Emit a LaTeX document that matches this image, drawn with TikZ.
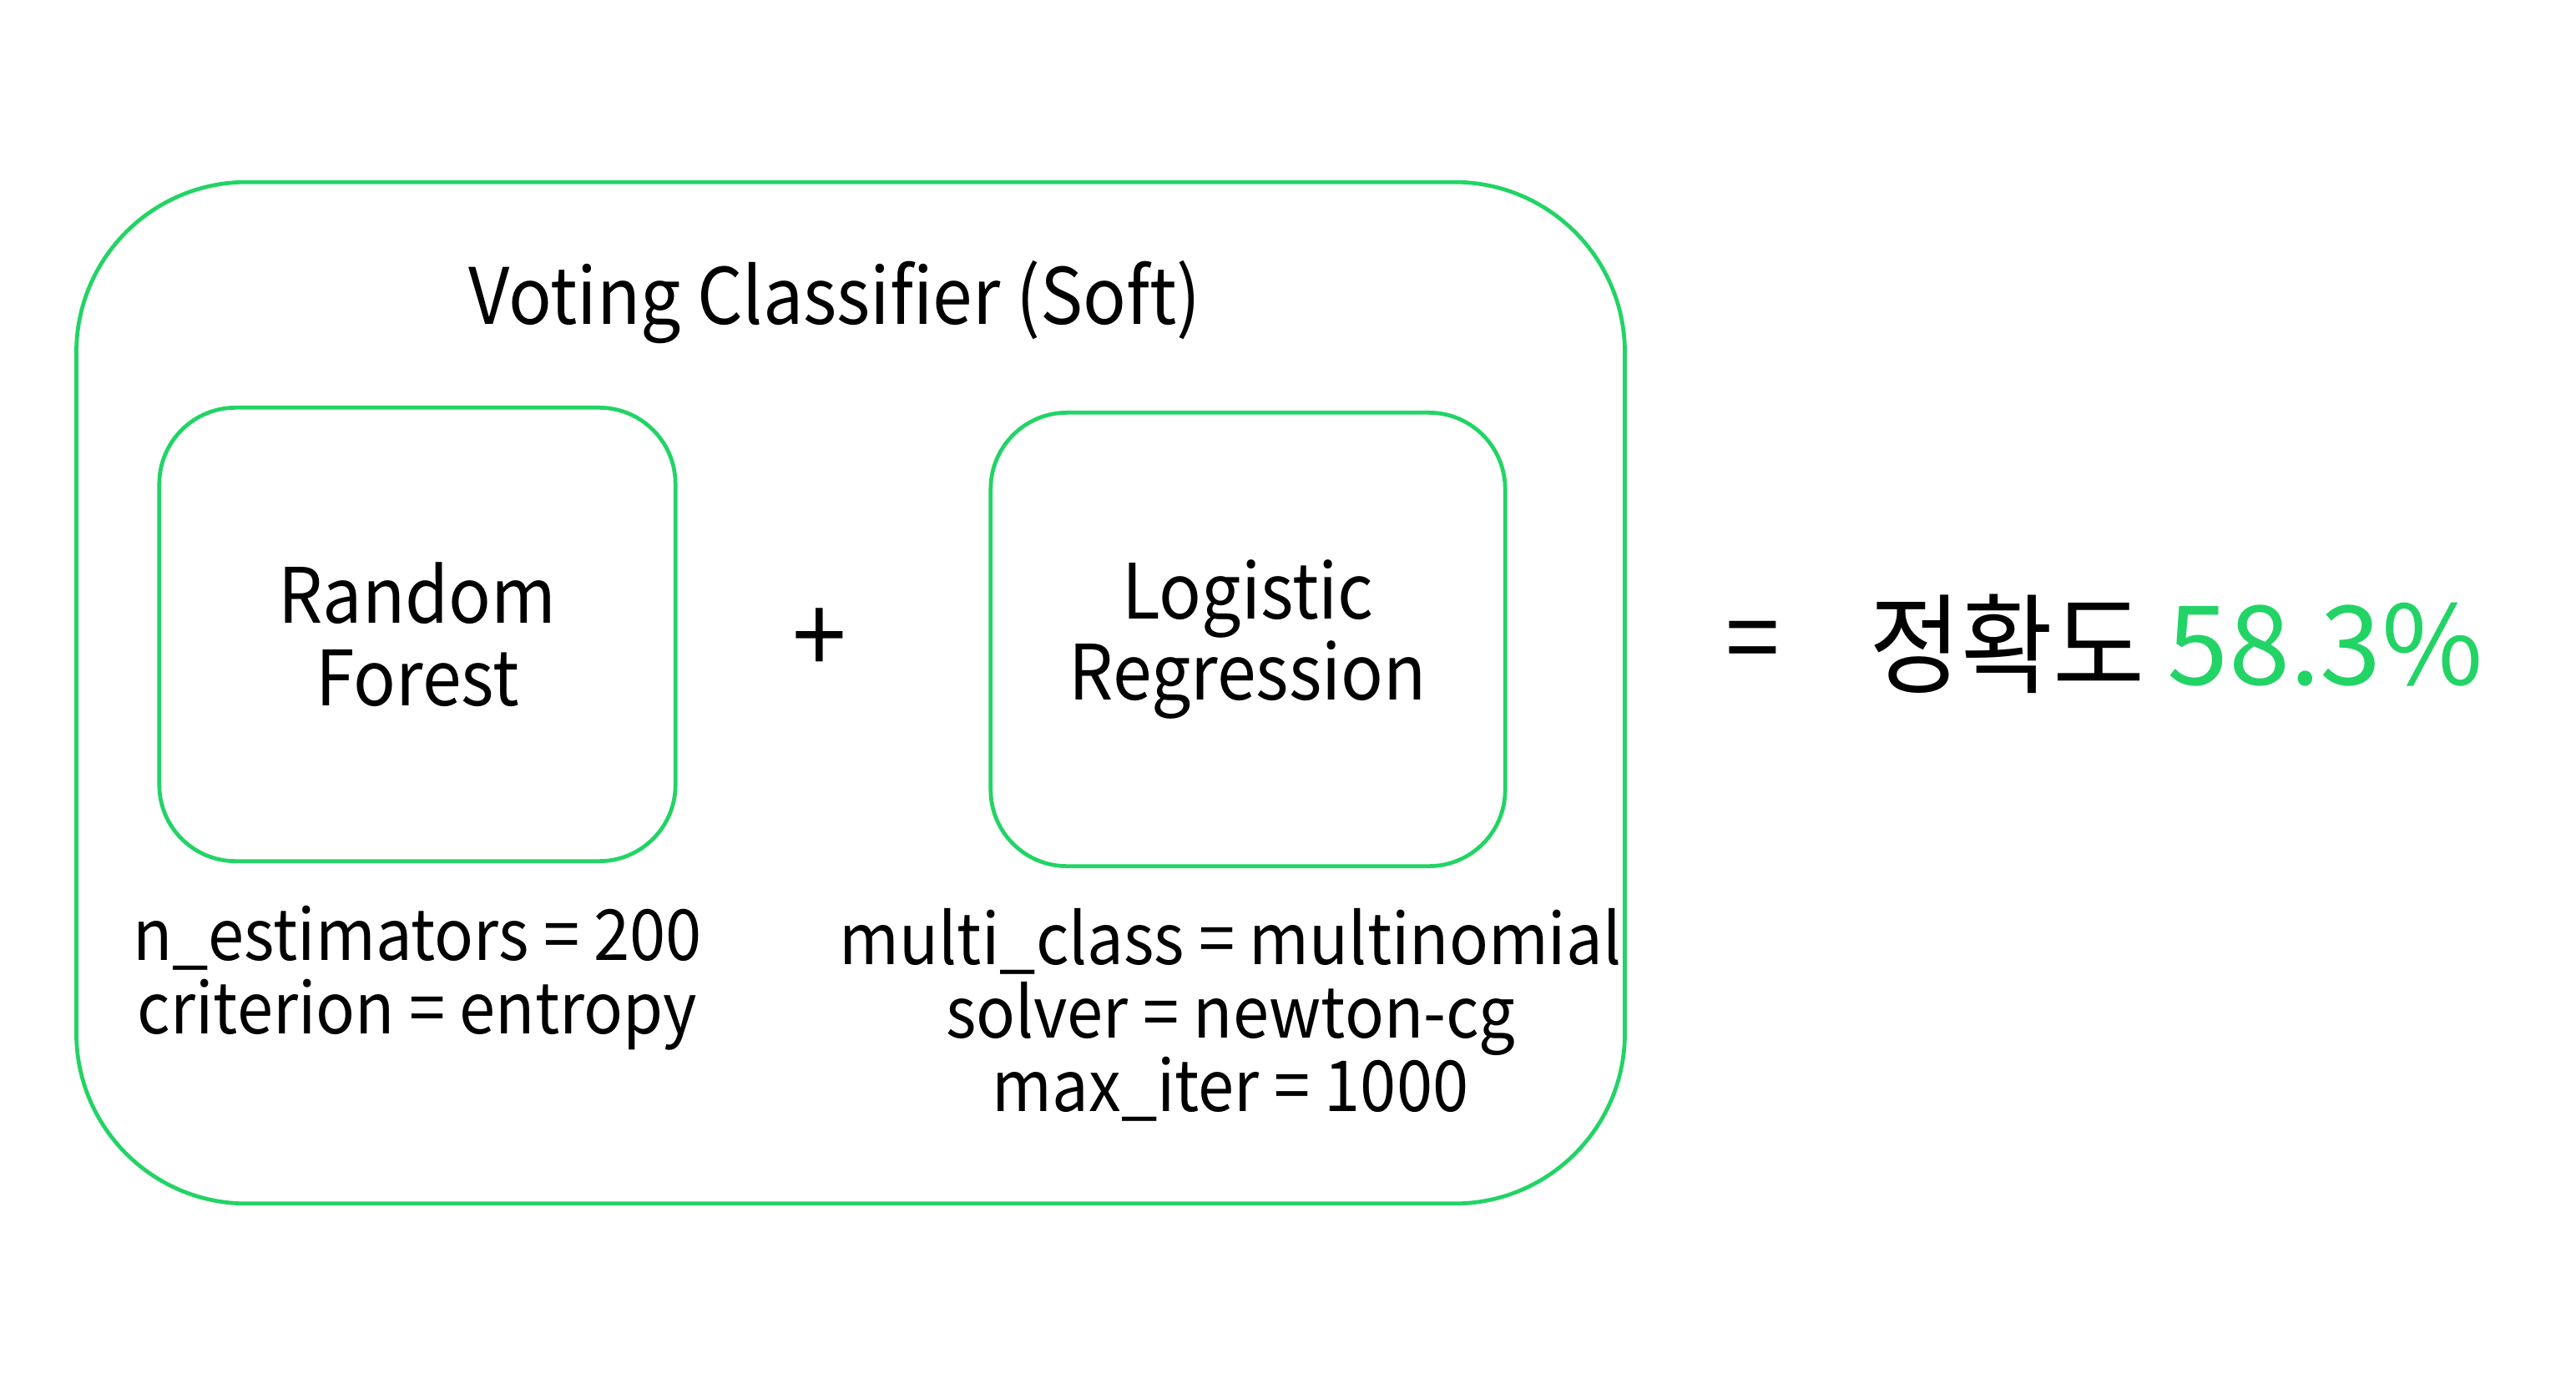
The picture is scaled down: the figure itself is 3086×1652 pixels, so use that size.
\documentclass[tikz,border=0pt]{standalone}
\usepackage{fontspec}
\setmainfont{Noto Sans CJK KR}[FakeStretch=0.92]
\newfontfamily\widefont{Noto Sans CJK KR}
\definecolor{votegreen}{HTML}{22D465}
\tikzset{
  greenbox/.style={draw=votegreen, line width=1.35pt},
  modelbox/.style={greenbox, rounded corners=26pt, align=center,
    minimum height=5.43cm, font=\fontsize{26}{28}\selectfont},
  param/.style={align=center, font=\fontsize{24}{25}\selectfont},
}
\begin{document}
\begin{tikzpicture}[x=0.01cm, y=-0.01cm]
  \useasboundingbox (0,0) rectangle (3086,1652);
  % outer voting box
  \node[greenbox, rounded corners=58pt,
        minimum width=18.54cm, minimum height=12.23cm] (vote) at (1019,830) {};
  \node[font=\fontsize{26.5}{28}\selectfont] (title) at (1000,362) {Voting Classifier (Soft)};
  % the two models
  \node[modelbox, minimum width=6.18cm] (rf) at (500,760) {Random\\Forest};
  \node[modelbox, minimum width=6.16cm] (lr) at (1495,766) {\raisebox{-2pt}{Logistic}\\Regression};
  \node[font=\fontsize{36}{38}\selectfont] (plus) at (982,768) {+};
  \node[param] (rfparam) at (500,1172) {n\_estimators = 200\\criterion = entropy};
  \node[param] (lrparam) at (1474,1216) {multi\_class = multinomial\\solver = newton-cg\\max\_iter = 1000};
  % result
  \node[font=\fontsize{36}{38}\selectfont] (eq) at (2100,777) {=};
  \node[font=\fontsize{37.5}{39}\selectfont] (acc) at (2607,771) {{\fontsize{37}{39}\selectfont 정확도} \textcolor{votegreen}{\widefont 58.3\%}};
\end{tikzpicture}
\end{document}
